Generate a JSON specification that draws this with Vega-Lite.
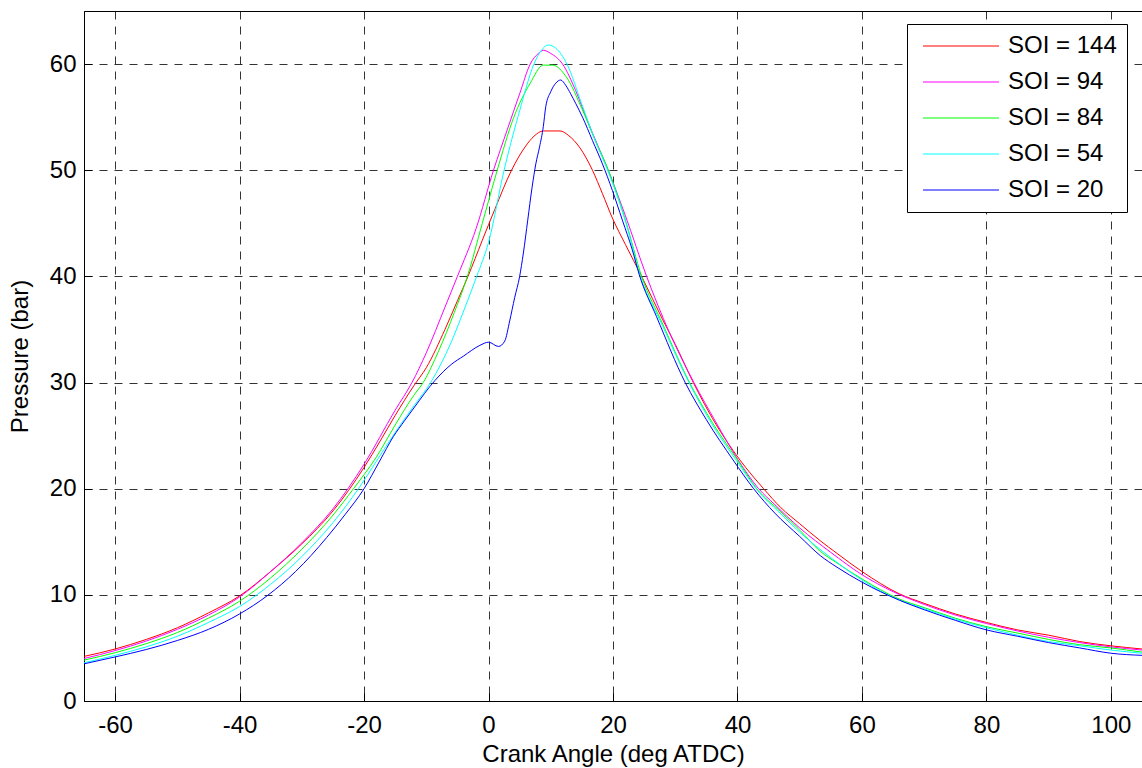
{
  "$schema": "https://vega.github.io/schema/vega-lite/v6.json",
  "width": 1058,
  "height": 690,
  "autosize": {"type": "none"},
  "padding": {"left": 84, "top": 11, "right": 0, "bottom": 67},
  "background": "white",
  "config": {
    "font": "Liberation Sans",
    "view": {"stroke": "black", "strokeWidth": 1},
    "axis": {
      "domainColor": "black",
      "labelColor": "black",
      "titleColor": "black",
      "labelFont": "Liberation Sans",
      "titleFont": "Liberation Sans",
      "labelFontSize": 24,
      "titleFontSize": 24,
      "titleFontWeight": "normal",
      "gridColor": "#000000",
      "gridDash": [8, 7],
      "gridOpacity": 0.8,
      "gridWidth": 1,
      "ticks": true,
      "tickColor": "black",
      "tickSize": -8
    }
  },
  "datasets": {
    "curves": [
      {"a": -65, "p": 4.2, "s": "SOI = 144"}, {"a": -60, "p": 4.9, "s": "SOI = 144"}, {"a": -55, "p": 5.8, "s": "SOI = 144"}, {"a": -50, "p": 6.9, "s": "SOI = 144"}, {"a": -45, "p": 8.3, "s": "SOI = 144"}, {"a": -40, "p": 9.9, "s": "SOI = 144"}, {"a": -35, "p": 12.2, "s": "SOI = 144"}, {"a": -30, "p": 14.8, "s": "SOI = 144"}, {"a": -25, "p": 17.9, "s": "SOI = 144"}, {"a": -20, "p": 22.0, "s": "SOI = 144"}, {"a": -17.4, "p": 24.5, "s": "SOI = 144"}, {"a": -15, "p": 26.9, "s": "SOI = 144"}, {"a": -12, "p": 29.7, "s": "SOI = 144"}, {"a": -10, "p": 31.4, "s": "SOI = 144"}, {"a": -7, "p": 35.0, "s": "SOI = 144"}, {"a": -5, "p": 37.7, "s": "SOI = 144"}, {"a": -3.3, "p": 40, "s": "SOI = 144"}, {"a": -1, "p": 43.4, "s": "SOI = 144"}, {"a": 1, "p": 46.3, "s": "SOI = 144"}, {"a": 3.7, "p": 50, "s": "SOI = 144"}, {"a": 6, "p": 52.3, "s": "SOI = 144"}, {"a": 7.3, "p": 53.2, "s": "SOI = 144"}, {"a": 8.8, "p": 53.7, "s": "SOI = 144"}, {"a": 11.5, "p": 53.7, "s": "SOI = 144"}, {"a": 12.8, "p": 53.3, "s": "SOI = 144"}, {"a": 14.7, "p": 52.1, "s": "SOI = 144"}, {"a": 16.7, "p": 50.0, "s": "SOI = 144"}, {"a": 18.3, "p": 47.8, "s": "SOI = 144"}, {"a": 19.9, "p": 45.5, "s": "SOI = 144"}, {"a": 22, "p": 43.0, "s": "SOI = 144"}, {"a": 24.6, "p": 40, "s": "SOI = 144"}, {"a": 28, "p": 35.9, "s": "SOI = 144"}, {"a": 30, "p": 33.6, "s": "SOI = 144"}, {"a": 32.9, "p": 30, "s": "SOI = 144"}, {"a": 36, "p": 26.6, "s": "SOI = 144"}, {"a": 40.4, "p": 22.7, "s": "SOI = 144"}, {"a": 44.2, "p": 20, "s": "SOI = 144"}, {"a": 47, "p": 18.2, "s": "SOI = 144"}, {"a": 50, "p": 16.7, "s": "SOI = 144"}, {"a": 53.3, "p": 15.1, "s": "SOI = 144"}, {"a": 56, "p": 13.9, "s": "SOI = 144"}, {"a": 60, "p": 12.2, "s": "SOI = 144"}, {"a": 66, "p": 10.1, "s": "SOI = 144"}, {"a": 70, "p": 9.2, "s": "SOI = 144"}, {"a": 75, "p": 8.2, "s": "SOI = 144"}, {"a": 80, "p": 7.4, "s": "SOI = 144"}, {"a": 85, "p": 6.7, "s": "SOI = 144"}, {"a": 90, "p": 6.2, "s": "SOI = 144"}, {"a": 95, "p": 5.6, "s": "SOI = 144"}, {"a": 100, "p": 5.2, "s": "SOI = 144"}, {"a": 105, "p": 4.9, "s": "SOI = 144"},

      {"a": -65, "p": 4.0, "s": "SOI = 94"}, {"a": -60, "p": 4.75, "s": "SOI = 94"}, {"a": -55, "p": 5.65, "s": "SOI = 94"}, {"a": -50, "p": 6.75, "s": "SOI = 94"}, {"a": -45, "p": 8.1, "s": "SOI = 94"}, {"a": -40, "p": 9.8, "s": "SOI = 94"}, {"a": -35, "p": 12.2, "s": "SOI = 94"}, {"a": -30, "p": 14.9, "s": "SOI = 94"}, {"a": -25, "p": 18.1, "s": "SOI = 94"}, {"a": -20, "p": 22.3, "s": "SOI = 94"}, {"a": -15, "p": 27.4, "s": "SOI = 94"}, {"a": -12.3, "p": 30, "s": "SOI = 94"}, {"a": -10, "p": 32.8, "s": "SOI = 94"}, {"a": -7, "p": 37.1, "s": "SOI = 94"}, {"a": -5, "p": 40, "s": "SOI = 94"}, {"a": -2, "p": 44.5, "s": "SOI = 94"}, {"a": 0.8, "p": 50, "s": "SOI = 94"}, {"a": 3, "p": 53.8, "s": "SOI = 94"}, {"a": 5, "p": 57.2, "s": "SOI = 94"}, {"a": 6.7, "p": 60, "s": "SOI = 94"}, {"a": 8, "p": 61.0, "s": "SOI = 94"}, {"a": 8.8, "p": 61.3, "s": "SOI = 94"}, {"a": 10, "p": 61.0, "s": "SOI = 94"}, {"a": 11.9, "p": 60, "s": "SOI = 94"}, {"a": 14, "p": 57.5, "s": "SOI = 94"}, {"a": 16, "p": 54.5, "s": "SOI = 94"}, {"a": 17.8, "p": 52, "s": "SOI = 94"}, {"a": 19.5, "p": 49.6, "s": "SOI = 94"}, {"a": 22, "p": 45.7, "s": "SOI = 94"}, {"a": 25.4, "p": 40, "s": "SOI = 94"}, {"a": 29, "p": 34.8, "s": "SOI = 94"}, {"a": 33, "p": 30, "s": "SOI = 94"}, {"a": 36.5, "p": 26.3, "s": "SOI = 94"}, {"a": 40, "p": 22.8, "s": "SOI = 94"}, {"a": 43.4, "p": 20, "s": "SOI = 94"}, {"a": 46, "p": 18.5, "s": "SOI = 94"}, {"a": 50, "p": 16.3, "s": "SOI = 94"}, {"a": 55, "p": 14.0, "s": "SOI = 94"}, {"a": 60, "p": 11.9, "s": "SOI = 94"}, {"a": 65, "p": 10.3, "s": "SOI = 94"}, {"a": 70, "p": 9.1, "s": "SOI = 94"}, {"a": 75, "p": 8.1, "s": "SOI = 94"}, {"a": 80, "p": 7.3, "s": "SOI = 94"}, {"a": 85, "p": 6.6, "s": "SOI = 94"}, {"a": 90, "p": 6.0, "s": "SOI = 94"}, {"a": 95, "p": 5.5, "s": "SOI = 94"}, {"a": 100, "p": 5.1, "s": "SOI = 94"}, {"a": 105, "p": 4.8, "s": "SOI = 94"},

      {"a": -65, "p": 3.85, "s": "SOI = 84"}, {"a": -60, "p": 4.55, "s": "SOI = 84"}, {"a": -55, "p": 5.4, "s": "SOI = 84"}, {"a": -50, "p": 6.45, "s": "SOI = 84"}, {"a": -45, "p": 7.8, "s": "SOI = 84"}, {"a": -40, "p": 9.4, "s": "SOI = 84"}, {"a": -35, "p": 11.6, "s": "SOI = 84"}, {"a": -30, "p": 14.3, "s": "SOI = 84"}, {"a": -25, "p": 17.5, "s": "SOI = 84"}, {"a": -21.7, "p": 20, "s": "SOI = 84"}, {"a": -18, "p": 23.0, "s": "SOI = 84"}, {"a": -15, "p": 26.0, "s": "SOI = 84"}, {"a": -12, "p": 28.8, "s": "SOI = 84"}, {"a": -10.5, "p": 30, "s": "SOI = 84"}, {"a": -8, "p": 33.0, "s": "SOI = 84"}, {"a": -5.5, "p": 36.6, "s": "SOI = 84"}, {"a": -3.4, "p": 40, "s": "SOI = 84"}, {"a": -1, "p": 45, "s": "SOI = 84"}, {"a": 1.4, "p": 50, "s": "SOI = 84"}, {"a": 4, "p": 54.9, "s": "SOI = 84"}, {"a": 6.7, "p": 58.2, "s": "SOI = 84"}, {"a": 8.8, "p": 59.9, "s": "SOI = 84"}, {"a": 10.3, "p": 59.9, "s": "SOI = 84"}, {"a": 12.6, "p": 58.7, "s": "SOI = 84"}, {"a": 15, "p": 55.8, "s": "SOI = 84"}, {"a": 17, "p": 53.0, "s": "SOI = 84"}, {"a": 19.4, "p": 49.8, "s": "SOI = 84"}, {"a": 22, "p": 45.3, "s": "SOI = 84"}, {"a": 24.6, "p": 40, "s": "SOI = 84"}, {"a": 28, "p": 35.5, "s": "SOI = 84"}, {"a": 32.3, "p": 30, "s": "SOI = 84"}, {"a": 36, "p": 26.2, "s": "SOI = 84"}, {"a": 40, "p": 22.7, "s": "SOI = 84"}, {"a": 43.1, "p": 20, "s": "SOI = 84"}, {"a": 47, "p": 17.8, "s": "SOI = 84"}, {"a": 50, "p": 16.1, "s": "SOI = 84"}, {"a": 53.3, "p": 14.1, "s": "SOI = 84"}, {"a": 56, "p": 13.0, "s": "SOI = 84"}, {"a": 60, "p": 11.5, "s": "SOI = 84"}, {"a": 66, "p": 9.6, "s": "SOI = 84"}, {"a": 70, "p": 8.8, "s": "SOI = 84"}, {"a": 75, "p": 7.8, "s": "SOI = 84"}, {"a": 80, "p": 7.0, "s": "SOI = 84"}, {"a": 85, "p": 6.4, "s": "SOI = 84"}, {"a": 90, "p": 5.8, "s": "SOI = 84"}, {"a": 95, "p": 5.3, "s": "SOI = 84"}, {"a": 100, "p": 5.0, "s": "SOI = 84"}, {"a": 105, "p": 4.6, "s": "SOI = 84"},

      {"a": -65, "p": 3.6, "s": "SOI = 54"}, {"a": -60, "p": 4.3, "s": "SOI = 54"}, {"a": -55, "p": 5.1, "s": "SOI = 54"}, {"a": -50, "p": 6.1, "s": "SOI = 54"}, {"a": -45, "p": 7.4, "s": "SOI = 54"}, {"a": -40, "p": 8.9, "s": "SOI = 54"}, {"a": -35, "p": 11.0, "s": "SOI = 54"}, {"a": -30, "p": 13.6, "s": "SOI = 54"}, {"a": -25, "p": 16.8, "s": "SOI = 54"}, {"a": -20.9, "p": 20, "s": "SOI = 54"}, {"a": -18, "p": 22.6, "s": "SOI = 54"}, {"a": -15, "p": 25.3, "s": "SOI = 54"}, {"a": -12, "p": 27.8, "s": "SOI = 54"}, {"a": -9.3, "p": 30, "s": "SOI = 54"}, {"a": -6, "p": 33.8, "s": "SOI = 54"}, {"a": -3.5, "p": 37.5, "s": "SOI = 54"}, {"a": -1.9, "p": 40, "s": "SOI = 54"}, {"a": 0, "p": 43.2, "s": "SOI = 54"}, {"a": 2.5, "p": 50, "s": "SOI = 54"}, {"a": 5, "p": 55.6, "s": "SOI = 54"}, {"a": 7.3, "p": 60, "s": "SOI = 54"}, {"a": 8.5, "p": 61.3, "s": "SOI = 54"}, {"a": 9.6, "p": 61.8, "s": "SOI = 54"}, {"a": 10.8, "p": 61.5, "s": "SOI = 54"}, {"a": 12.6, "p": 60, "s": "SOI = 54"}, {"a": 15, "p": 56.2, "s": "SOI = 54"}, {"a": 17, "p": 53.0, "s": "SOI = 54"}, {"a": 19.4, "p": 49.6, "s": "SOI = 54"}, {"a": 22, "p": 45.2, "s": "SOI = 54"}, {"a": 24.4, "p": 40, "s": "SOI = 54"}, {"a": 28, "p": 35.3, "s": "SOI = 54"}, {"a": 32.2, "p": 30, "s": "SOI = 54"}, {"a": 36, "p": 26.0, "s": "SOI = 54"}, {"a": 40, "p": 22.5, "s": "SOI = 54"}, {"a": 43, "p": 20, "s": "SOI = 54"}, {"a": 47, "p": 17.6, "s": "SOI = 54"}, {"a": 50, "p": 15.9, "s": "SOI = 54"}, {"a": 55, "p": 13.5, "s": "SOI = 54"}, {"a": 60, "p": 11.4, "s": "SOI = 54"}, {"a": 66, "p": 9.5, "s": "SOI = 54"}, {"a": 70, "p": 8.7, "s": "SOI = 54"}, {"a": 75, "p": 7.7, "s": "SOI = 54"}, {"a": 80, "p": 6.9, "s": "SOI = 54"}, {"a": 85, "p": 6.2, "s": "SOI = 54"}, {"a": 90, "p": 5.6, "s": "SOI = 54"}, {"a": 95, "p": 5.2, "s": "SOI = 54"}, {"a": 100, "p": 4.8, "s": "SOI = 54"}, {"a": 105, "p": 4.5, "s": "SOI = 54"},

      {"a": -65, "p": 3.5, "s": "SOI = 20"}, {"a": -60, "p": 4.15, "s": "SOI = 20"}, {"a": -55, "p": 4.85, "s": "SOI = 20"}, {"a": -50, "p": 5.7, "s": "SOI = 20"}, {"a": -45, "p": 6.75, "s": "SOI = 20"}, {"a": -40, "p": 8.2, "s": "SOI = 20"}, {"a": -35.6, "p": 9.9, "s": "SOI = 20"}, {"a": -31, "p": 12.2, "s": "SOI = 20"}, {"a": -26, "p": 15.4, "s": "SOI = 20"}, {"a": -23, "p": 17.6, "s": "SOI = 20"}, {"a": -20, "p": 20, "s": "SOI = 20"}, {"a": -17.5, "p": 22.6, "s": "SOI = 20"}, {"a": -15.3, "p": 24.9, "s": "SOI = 20"}, {"a": -13.5, "p": 26.4, "s": "SOI = 20"}, {"a": -12, "p": 27.6, "s": "SOI = 20"}, {"a": -8.6, "p": 30.2, "s": "SOI = 20"}, {"a": -6, "p": 31.7, "s": "SOI = 20"}, {"a": -4, "p": 32.5, "s": "SOI = 20"}, {"a": -1.4, "p": 33.5, "s": "SOI = 20"}, {"a": 0, "p": 33.8, "s": "SOI = 20"}, {"a": 1.6, "p": 33.4, "s": "SOI = 20"}, {"a": 2.6, "p": 33.9, "s": "SOI = 20"}, {"a": 3.4, "p": 35.8, "s": "SOI = 20"}, {"a": 4.2, "p": 38.0, "s": "SOI = 20"}, {"a": 5.0, "p": 40, "s": "SOI = 20"}, {"a": 5.6, "p": 42.2, "s": "SOI = 20"}, {"a": 6.3, "p": 45.3, "s": "SOI = 20"}, {"a": 7.0, "p": 48.4, "s": "SOI = 20"}, {"a": 7.6, "p": 50.6, "s": "SOI = 20"}, {"a": 8.2, "p": 52.2, "s": "SOI = 20"}, {"a": 8.8, "p": 54.1, "s": "SOI = 20"}, {"a": 9.2, "p": 56.0, "s": "SOI = 20"}, {"a": 10.0, "p": 57.4, "s": "SOI = 20"}, {"a": 10.8, "p": 58.2, "s": "SOI = 20"}, {"a": 11.6, "p": 58.5, "s": "SOI = 20"}, {"a": 12.4, "p": 58.0, "s": "SOI = 20"}, {"a": 13.2, "p": 57.2, "s": "SOI = 20"}, {"a": 14.0, "p": 56.3, "s": "SOI = 20"}, {"a": 15.1, "p": 55.0, "s": "SOI = 20"}, {"a": 16.7, "p": 52.8, "s": "SOI = 20"}, {"a": 18.3, "p": 50.6, "s": "SOI = 20"}, {"a": 19.9, "p": 48.1, "s": "SOI = 20"}, {"a": 21.5, "p": 45.3, "s": "SOI = 20"}, {"a": 23.1, "p": 42.5, "s": "SOI = 20"}, {"a": 24.2, "p": 40.2, "s": "SOI = 20"}, {"a": 27, "p": 36.2, "s": "SOI = 20"}, {"a": 31.6, "p": 30, "s": "SOI = 20"}, {"a": 35, "p": 26.5, "s": "SOI = 20"}, {"a": 39.3, "p": 22.7, "s": "SOI = 20"}, {"a": 42.6, "p": 20, "s": "SOI = 20"}, {"a": 46, "p": 17.7, "s": "SOI = 20"}, {"a": 50, "p": 15.5, "s": "SOI = 20"}, {"a": 53.3, "p": 13.7, "s": "SOI = 20"}, {"a": 56, "p": 12.6, "s": "SOI = 20"}, {"a": 60, "p": 11.2, "s": "SOI = 20"}, {"a": 66, "p": 9.5, "s": "SOI = 20"}, {"a": 70, "p": 8.6, "s": "SOI = 20"}, {"a": 75, "p": 7.6, "s": "SOI = 20"}, {"a": 80, "p": 6.7, "s": "SOI = 20"}, {"a": 85, "p": 6.1, "s": "SOI = 20"}, {"a": 90, "p": 5.5, "s": "SOI = 20"}, {"a": 95, "p": 5.0, "s": "SOI = 20"}, {"a": 100, "p": 4.5, "s": "SOI = 20"}, {"a": 105, "p": 4.3, "s": "SOI = 20"}
    ]
  },
  "data": {"name": "curves"},
  "mark": {"type": "line", "strokeWidth": 1, "clip": true, "interpolate": "monotone"},
  "encoding": {
    "x": {
      "field": "a",
      "type": "quantitative",
      "scale": {"domain": [-65, 105], "nice": false, "zero": false},
      "axis": {
        "title": "Crank Angle (deg ATDC)",
        "values": [-60, -40, -20, 0, 20, 40, 60, 80, 100],
        "labelExpr": "'' + datum.value",
        "labelPadding": 20,
        "titlePadding": 5
      }
    },
    "y": {
      "field": "p",
      "type": "quantitative",
      "scale": {"domain": [0, 65], "nice": false, "zero": true},
      "axis": {
        "title": "Pressure (bar)",
        "values": [0, 10, 20, 30, 40, 50, 60],
        "labelPadding": 16,
        "titlePadding": 17
      }
    },
    "color": {
      "field": "s",
      "type": "nominal",
      "sort": null,
      "scale": {
        "domain": ["SOI = 144", "SOI = 94", "SOI = 84", "SOI = 54", "SOI = 20"],
        "range": ["#ff0000", "#ff00ff", "#00ff00", "#00ffff", "#0000ff"]
      },
      "legend": {
        "orient": "none",
        "legendX": 823,
        "legendY": 13,
        "title": null,
        "strokeColor": "black",
        "fillColor": "white",
        "padding": 10,
        "cornerRadius": 0,
        "labelFont": "Liberation Sans",
        "labelFontSize": 24,
        "labelColor": "black",
        "symbolType": "M-0.8,0H14.4",
        "symbolSize": 100,
        "symbolStrokeWidth": 1,
        "symbolOffset": -2,
        "labelOffset": 69,
        "rowPadding": 12
      }
    }
  }
}
